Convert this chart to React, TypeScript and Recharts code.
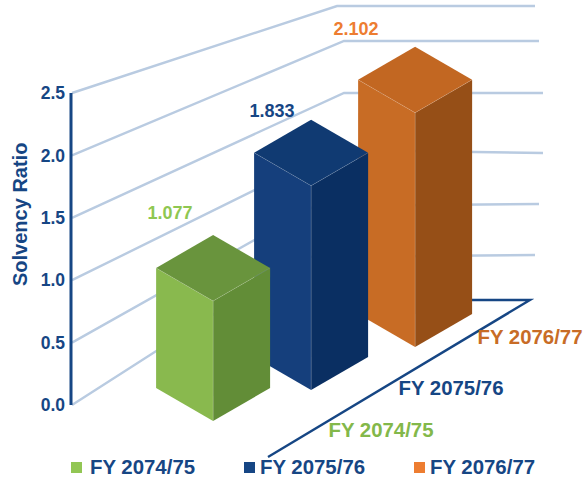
import React from "react";
import { BarChart, Bar, XAxis, YAxis, CartesianGrid, Legend, LabelList } from "recharts";

const categories = ["FY 2074/75", "FY 2075/76", "FY 2076/77"];
const seriesValues = [1.077, 1.833, 2.102];
const yTicks = [0, 0.5, 1, 1.5, 2, 2.5];

const legendColors = ["#92c654", "#164684", "#ed7d31"];
const valueColors = ["#8fc751", "#164684", "#ed7d31"];
const categoryColors = ["#83b84a", "#164684", "#c86c26"];
const faceColors = [
    { front: "#89b94e", side: "#628d37", top: "#69943d" },
    { front: "#153f7c", side: "#0a2f62", top: "#103a72" },
    { front: "#c86c25", side: "#964f17", top: "#c26722" },
];

const NAVY = "#164684";
const WALL = "#b9cbe1";
const FONT = "'Liberation Sans', Arial, sans-serif";

// fake 3d: how far each box sits from the axis baseline
const depth = [
    { dx: 1, dy: 16, labelDx: -42, labelDy: -58, tickDx: 169, tickDy: 25 },
    { dx: -2, dy: -15, labelDx: -41, labelDy: -65, tickDx: 138, tickDy: -17 },
    { dx: 1, dy: -58, labelDx: -58, labelDy: -114, tickDx: 116, tickDy: -68 },
];
const BOX_WIDTH = 114;
const TOP_DROP = 33;
const FORESHORTEN = 0.893; // box heights are squeezed against the wall scale
const PLOT_BOTTOM = 405;
const TICK_GAP = 62.4;

// bend and right end of each wall line, bottom tick first
const wallBends = [
    { bx: 303, by: 257, ex: 535, ey: 255 },
    { bx: 315, by: 206, ex: 539, ey: 204 },
    { bx: 336, by: 150, ex: 543, ey: 153 },
    { bx: 344, by: 93, ex: 543, ey: 93 },
    { bx: 344, by: 41, ex: 539, ey: 41 },
    { bx: 337, by: 6, ex: 535, ey: 6 },
];

const data = categories.map((name, i) => ({ name, [name]: seriesValues[i] }));

const WallLine = (props: any) => {
    const { x1, y1 } = props;
    const level = Math.round((PLOT_BOTTOM - y1) / TICK_GAP);
    const w = wallBends[level];
    if (!w) return null;
    return (
        <g key={`wall-${level}`}>
            <polyline
                points={`${x1 + 1},${y1} ${w.bx},${w.by} ${w.ex},${w.ey}`}
                fill="none"
                stroke={WALL}
                strokeWidth={2.4}
            />
            {level === 0 && (
                <polyline
                    points={`420,300 530,300 268,457`}
                    fill="none"
                    stroke={NAVY}
                    strokeWidth={2.4}
                />
            )}
        </g>
    );
};

const Box3D = (props: any) => {
    const { x, y, width, height, index } = props;
    if (!height || height <= 0) return null;
    const d = depth[index];
    const c = faceColors[index];
    const mid = x + width / 2 + d.dx;
    const left = mid - BOX_WIDTH / 2;
    const right = mid + BOX_WIDTH / 2;
    const boxHeight = height * FORESHORTEN;
    const frontBottom = y + height + d.dy;
    const frontTop = frontBottom - boxHeight;
    const topY = frontTop - TOP_DROP;
    const sideBottom = topY + boxHeight;
    return (
        <g>
            <polygon points={`${left},${topY} ${mid},${frontTop} ${mid},${frontBottom} ${left},${sideBottom}`} fill={c.front} />
            <polygon points={`${mid},${frontTop} ${right},${topY} ${right},${sideBottom} ${mid},${frontBottom}`} fill={c.side} />
            <polygon points={`${left},${topY} ${mid},${topY - TOP_DROP} ${right},${topY} ${mid},${frontTop}`} fill={c.top} />
            <polyline
                points={`${left},${topY} ${mid},${frontTop} ${right},${topY}`}
                fill="none"
                stroke="#ffffff"
                strokeOpacity={0.2}
                strokeWidth={0.7}
            />
            <line x1={mid} y1={frontTop} x2={mid} y2={frontBottom} stroke="#ffffff" strokeOpacity={0.25} strokeWidth={0.7} />
        </g>
    );
};

const ValueLabel = (props: any) => {
    const { x, y, width, index, value } = props;
    if (!value) return null;
    const d = depth[index];
    return (
        <text
            x={x + width / 2 + d.labelDx}
            y={y + d.labelDy}
            textAnchor="middle"
            dominantBaseline="central"
            fontFamily={FONT}
            fontWeight="bold"
            fontSize={18}
            fill={valueColors[index]}
        >
            {Number(value).toFixed(3)}
        </text>
    );
};

const CategoryTick = (props: any) => {
    const { x, index, payload } = props;
    const d = depth[index];
    return (
        <text
            x={x + d.tickDx}
            y={PLOT_BOTTOM + d.tickDy}
            textAnchor="middle"
            dominantBaseline="central"
            fontFamily={FONT}
            fontWeight="bold"
            fontSize={20.4}
            fill={categoryColors[index]}
        >
            {payload.value}
        </text>
    );
};

const legendLefts = [71, 244, 414];
const legendGaps = [8, 5, 5];

const LegendRow = (props: any) => {
    const items = [...(props.payload || [])].sort(
        (a: any, b: any) => categories.indexOf(a.value) - categories.indexOf(b.value)
    );
    return (
        <div style={{ position: "relative", height: 26, fontFamily: FONT, fontWeight: "bold", fontSize: 20.4, color: NAVY }}>
            {items.map((item: any, i: number) => (
                <div
                    key={item.value}
                    style={{ position: "absolute", left: legendLefts[i], top: 0, display: "flex", alignItems: "center", height: 26, whiteSpace: "nowrap" }}
                >
                    <span style={{ display: "inline-block", width: 11, height: 11, background: item.color, marginRight: legendGaps[i] }} />
                    {item.value}
                </div>
            ))}
        </div>
    );
};

const App: React.FC = () => {
    return (
        <div style={{ position: "absolute", left: 0, top: 0 }}>
            <BarChart
                width={583}
                height={484}
                data={data}
                margin={{ top: 93, right: 40, left: 0, bottom: 78 }}
            >
                <CartesianGrid
                    vertical={false}
                    syncWithTicks
                    horizontal={(p: any) => <WallLine {...p} />}
                />
                <XAxis
                    dataKey="name"
                    height={1}
                    interval={0}
                    axisLine={false}
                    tickLine={false}
                    padding={{ left: 90.5, right: 78.5 }}
                    tick={(p: any) => <CategoryTick {...p} />}
                />
                <YAxis
                    width={71}
                    domain={[0, 2.5]}
                    ticks={yTicks}
                    interval={0}
                    tickFormatter={(v: number) => v.toFixed(1)}
                    tickLine={false}
                    tickMargin={0}
                    axisLine={{ stroke: NAVY, strokeWidth: 3 }}
                    tick={{ fill: NAVY, fontSize: 17.5, fontWeight: "bold", fontFamily: FONT }}
                    label={{
                        value: "Solvency Ratio",
                        angle: -90,
                        position: "insideLeft",
                        dx: 15,
                        dy: 37,
                        style: { fill: NAVY, fontSize: 20, fontWeight: "bold", fontFamily: FONT },
                    }}
                />
                {[2, 1, 0].map((i) => (
                    <Bar
                        key={categories[i]}
                        dataKey={categories[i]}
                        stackId="years"
                        fill={legendColors[i]}
                        shape={(p: any) => <Box3D {...p} />}
                        isAnimationActive={false}
                    >
                        <LabelList dataKey={categories[i]} content={(p: any) => <ValueLabel {...p} />} />
                    </Bar>
                ))}
                <Legend
                    verticalAlign="middle"
                    content={(p: any) => <LegendRow {...p} />}
                    wrapperStyle={{ left: 0, top: 454, width: 583, height: 26 }}
                />
            </BarChart>
        </div>
    );
};

export default App;
